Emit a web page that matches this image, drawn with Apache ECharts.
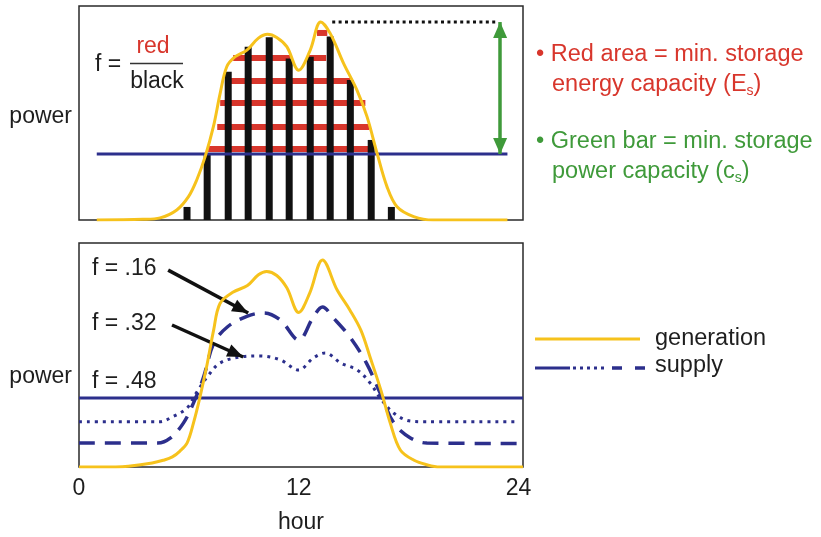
<!DOCTYPE html>
<html><head><meta charset="utf-8">
<script src="https://cdn.jsdelivr.net/npm/echarts/dist/echarts.min.js"></script>
<style>html,body{margin:0;padding:0;background:#fff}#c{width:821px;height:537px}</style>
</head><body><div id="c"></div>
<script>
// ---------- data ----------
const xTickLabels = [0, 12, 24];
// generation curve, top panel [hour, power]
const genTop = [[0.97,0],[3.5,0.3],[4.43,1],[5.34,4.7],[5.98,10.9],[6.43,18.7],[6.89,29.6],[7.34,43.6],[7.71,59.2],[8.07,71.6],[8.53,76.3],[9.17,79.4],[9.8,85],[10.3,86.8],[10.8,85.3],[11.35,81],[12.0,70],[12.63,79.4],[13.2,92.5],[13.72,87.2],[14.45,73.2],[15.18,60.7],[15.73,48.3],[16.28,31.2],[16.82,15.6],[17.37,6.2],[18.28,1.6],[19.35,0],[23.4,0]];
// black bars (top panel)
const barHours = [5.9, 7.0, 8.15, 9.24, 10.39, 11.48, 12.63, 13.72, 14.82, 15.96, 17.06];
const barPower = [6.1, 31.3, 69.3, 81, 85.4, 75.5, 76.3, 85.7, 65.4, 37.4, 6.1];
// red stripes [level, fromHour, toHour]
const stripes = [[87.4,13.0,13.56],[75.7,8.42,11.54],[75.7,12.47,13.5],[65,8.26,14.82],[54.7,7.71,15.64],[43.5,7.55,15.86],[33.2,7.05,16.02]];
const supplyTop = [[0.97,30.8],[23.4,30.8]];
const peakDotted = [[13.83,92.5],[22.85,92.5]];
const greenBar = [[23.0,92.5],[23.0,30.8]];
// bottom panel
const genBottom = [[0,0],[2,0],[2.7,0.3],[4.0,1.8],[4.6,3],[5.1,4.5],[5.5,7],[5.9,10.7],[6.25,19.6],[6.6,31],[7.0,46],[7.35,61],[7.7,73],[8.4,78],[9.2,81],[9.8,85.8],[10.25,87.3],[10.8,85.5],[11.35,80],[12.0,69],[12.6,77.6],[13.3,92.4],[14.1,79],[14.8,70],[15.4,61],[15.9,49],[16.5,34],[17.0,19.6],[17.55,7.6],[18.3,3],[19.0,1],[19.7,0],[24.25,0]];
const supply48 = [[0,30.8],[24.25,30.8]];
const supply32 = [[0,20.2],[4.4,20.2],[5.1,22.4],[5.9,26.3],[6.4,33],[7.0,40.2],[7.7,46.4],[8.8,49.1],[9.9,49.6],[11.0,47.8],[12.0,43.3],[12.8,48.7],[13.45,50.9],[14.3,46.4],[15.2,43.3],[15.9,37.5],[16.45,30.8],[17.2,24],[18.1,20.5],[19,20.2],[23.95,20.2]];
const supply16 = [[0,10.7],[4.3,10.7],[5.0,13],[5.7,19.6],[6.25,28.5],[6.8,40],[7.35,55],[8.1,62.5],[9.2,67.4],[10.1,68.8],[11.0,65.6],[12.0,56.7],[12.8,67],[13.3,71.4],[13.9,66.5],[14.8,58],[15.7,46.4],[16.45,33],[17.2,19.6],[18.1,13],[19.0,10.7],[23.95,10.5]];
const fArrows = [[[4.87,87.9],[9.24,68.75]],[[5.08,63.4],[8.97,49.1]]];
const fLabels = ['f = .16', 'f = .32', 'f = .48'];

// ---------- styles ----------
const FONT = 'Liberation Sans, Arial, sans-serif';
const YEL = '#f6c21c', NAVY = '#2c2f8c', RED = '#d8362c', GREEN = '#3f9a3a', TXT = '#1e1e1e';
const FS = 23, FSR = 23.5;

const chart = echarts.init(document.getElementById('c'));
const xCommon = { type:'value', min:0, max:24.25, interval:12, splitLine:{show:false}, axisTick:{show:false}, axisLine:{show:false} };
const yCommon = { type:'value', min:0, max:100, splitLine:{show:false}, axisTick:{show:false}, axisLine:{show:false}, axisLabel:{show:false} };
const headOffset = [[0,'50%'],[0,'50%']];

const series = [];
stripes.forEach(s => series.push({ type:'line', xAxisIndex:0, yAxisIndex:0, data:[[s[1],s[0]],[s[2],s[0]]], symbol:'none', silent:true, z:2,
  lineStyle:{color:RED, width:6, cap:'butt'} }));
series.push({ type:'bar', xAxisIndex:0, yAxisIndex:0, data:barHours.map((h,i)=>[h,barPower[i]]), barWidth:7, itemStyle:{color:'#111'}, silent:true, z:3 });
series.push({ type:'line', xAxisIndex:0, yAxisIndex:0, data:supplyTop, symbol:'none', lineStyle:{color:NAVY, width:3}, z:4, silent:true });
series.push({ type:'line', xAxisIndex:0, yAxisIndex:0, data:peakDotted, symbol:'none', lineStyle:{color:'#111', width:3, type:[3,3.4]}, z:4, silent:true });
series.push({ type:'line', xAxisIndex:0, yAxisIndex:0, data:greenBar, symbol:'none', lineStyle:{opacity:0}, z:4, silent:true,
  markLine:{ silent:true, symbol:['triangle','triangle'], symbolSize:[14,16], symbolOffset:headOffset, label:{show:false},
    lineStyle:{color:GREEN, width:3.5, type:'solid'}, data:[[{coord:greenBar[0]},{coord:greenBar[1]}]] } });
series.push({ type:'line', xAxisIndex:0, yAxisIndex:0, data:genTop, smooth:0.35, symbol:'none', lineStyle:{color:YEL, width:3}, z:6, silent:true });

series.push({ type:'line', xAxisIndex:1, yAxisIndex:1, data:supply48, symbol:'none', lineStyle:{color:NAVY, width:3}, z:4, silent:true });
series.push({ type:'line', xAxisIndex:1, yAxisIndex:1, data:supply32, smooth:0.35, symbol:'none', lineStyle:{color:NAVY, width:3, type:[3,5]}, z:4, silent:true });
series.push({ type:'line', xAxisIndex:1, yAxisIndex:1, data:supply16, smooth:0.35, symbol:'none', lineStyle:{color:NAVY, width:3.5, type:[16,10]}, z:4, silent:true });
series.push({ type:'line', xAxisIndex:1, yAxisIndex:1, data:genBottom, smooth:0.35, symbol:'none', lineStyle:{color:YEL, width:3}, z:6, silent:true });
series.push({ type:'line', xAxisIndex:1, yAxisIndex:1, data:fArrows[0], symbol:'none', lineStyle:{opacity:0}, z:7, silent:true,
  markLine:{ silent:true, symbol:['none','triangle'], symbolSize:[13,16], symbolOffset:headOffset, label:{show:false},
    lineStyle:{color:'#111', width:3.5, type:'solid'}, data: fArrows.map(a => [{coord:a[0]},{coord:a[1]}]) } });

const T = (x, y, text, extra) => Object.assign({ type:'text', x, y, z:100, style:Object.assign({ text, fontSize:FS, fontFamily:FONT, fill:TXT, textVerticalAlign:'middle' }, extra||{}) });

chart.setOption({
  animation:false,
  grid:[
    { left:79, top:6, width:444, height:214, show:true, borderColor:'#2a2a2a', borderWidth:1.5 },
    { left:79, top:243, width:444, height:224, show:true, borderColor:'#2a2a2a', borderWidth:1.5 }
  ],
  xAxis:[
    Object.assign({ gridIndex:0, axisLabel:{show:false} }, xCommon),
    Object.assign({ gridIndex:1, axisLabel:{show:true, fontSize:FS, color:TXT, fontFamily:FONT, margin:10,
      formatter: v => xTickLabels.indexOf(v) >= 0 ? String(v) : ''},
      name:'hour', nameLocation:'middle', nameGap:44, nameTextStyle:{fontSize:FS, color:TXT, fontFamily:FONT} }, xCommon)
  ],
  yAxis:[ Object.assign({ gridIndex:0 }, yCommon), Object.assign({ gridIndex:1 }, yCommon) ],
  series,
  graphic:[
    T(72, 117, 'power', {textAlign:'right'}),
    T(72, 377, 'power', {textAlign:'right'}),
    T(95, 65, 'f ='),
    T(153, 47, 'red', {fill:RED, textAlign:'center'}),
    { type:'line', z:100, shape:{x1:130, y1:63.5, x2:183, y2:63.5}, style:{stroke:'#333', lineWidth:1.5} },
    T(157, 82, 'black', {textAlign:'center'}),
    T(536, 55, '• Red area = min. storage', {fill:RED, fontSize:FSR}),
    T(552, 85, 'energy capacity (E{sub|s})', {fill:RED, fontSize:FSR, rich:{sub:{fontSize:14, fill:RED, fontFamily:FONT, padding:[12,0,0,0]}}}),
    T(536, 142, '• Green bar = min. storage', {fill:GREEN, fontSize:FSR}),
    T(552, 172, 'power capacity (c{sub|s})', {fill:GREEN, fontSize:FSR, rich:{sub:{fontSize:14, fill:GREEN, fontFamily:FONT, padding:[12,0,0,0]}}}),
    T(92, 269, fLabels[0]),
    T(92, 324, fLabels[1]),
    T(92, 382, fLabels[2]),
    { type:'line', z:100, shape:{x1:535, y1:339, x2:640, y2:339}, style:{stroke:YEL, lineWidth:3} },
    T(655, 339, 'generation', {fontSize:FSR}),
    { type:'line', z:100, shape:{x1:535, y1:368, x2:570, y2:368}, style:{stroke:NAVY, lineWidth:3} },
    { type:'line', z:100, shape:{x1:573, y1:368, x2:608, y2:368}, style:{stroke:NAVY, lineWidth:3, lineDash:[3,4]} },
    { type:'line', z:100, shape:{x1:612, y1:368, x2:645, y2:368}, style:{stroke:NAVY, lineWidth:3.5, lineDash:[10,13]} },
    T(655, 366, 'supply', {fontSize:FSR})
  ]
});
</script></body></html>
